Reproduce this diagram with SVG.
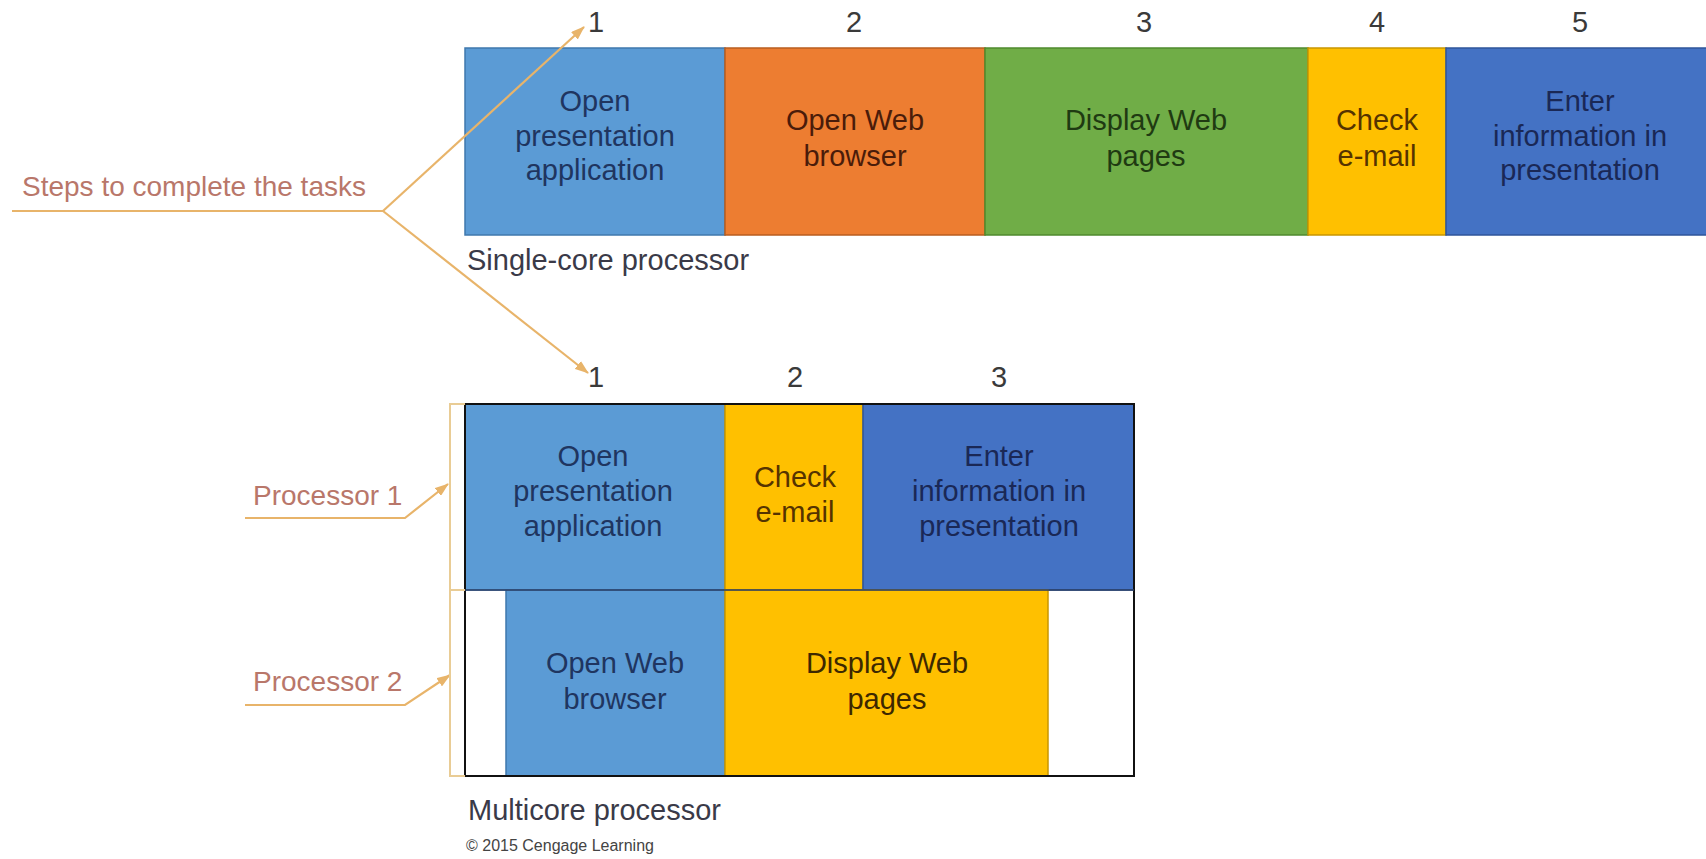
<svg xmlns="http://www.w3.org/2000/svg" width="1706" height="859" viewBox="0 0 1706 859">
<style>
  text { font-family: "Liberation Sans", Arial, sans-serif; }
  .box { font-size: 29px; text-anchor: middle; }
  .num { font-size: 29px; text-anchor: middle; fill: #3a3a3a; }
  .lbl { font-size: 28px; fill: #b9776a; }
  .cap { font-size: 29px; fill: #3a3a48; }
  .conn { fill: none; stroke: #e8b46a; stroke-width: 2.2; }
  .brk { fill: none; stroke: #e9cc95; stroke-width: 2; }
  .seg { stroke-width: 1.5; }
  .lb { fill: #5b9bd5; stroke: #3f78ad; }
  .or { fill: #ed7d31; stroke: #b95d1f; }
  .gr { fill: #70ad47; stroke: #4f8a2e; }
  .ye { fill: #ffc000; stroke: #c99600; }
  .db { fill: #4472c4; stroke: #2f559b; }
  .t-lb { fill: #1f3560; }
  .t-or { fill: #4a1c0a; }
  .t-gr { fill: #1f3a12; }
  .t-ye { fill: #553300; }
  .t-db { fill: #1a2856; }
</style>
<defs>
  <marker id="ah" viewBox="0 0 14 10" refX="13" refY="5" markerWidth="14" markerHeight="10" markerUnits="userSpaceOnUse" orient="auto">
    <path d="M0,0 L14,5 L0,10 Z" fill="#e8b46a"/>
  </marker>
</defs>
<rect width="1706" height="859" fill="#ffffff"/>

<!-- step numbers -->
<g id="top-numbers">
  <text class="num" x="596" y="32">1</text>
  <text class="num" x="854" y="32">2</text>
  <text class="num" x="1144" y="32">3</text>
  <text class="num" x="1377" y="32">4</text>
  <text class="num" x="1580" y="32">5</text>
</g>

<!-- single-core bar -->
<g id="single-1">
  <rect class="seg lb" x="465" y="48" width="260" height="187"/>
  <text class="box t-lb" x="595"><tspan x="595" y="111">Open</tspan><tspan x="595" y="146">presentation</tspan><tspan x="595" y="180">application</tspan></text>
</g>
<g id="single-2">
  <rect class="seg or" x="725" y="48" width="260" height="187"/>
  <text class="box t-or" x="855"><tspan x="855" y="130">Open Web</tspan><tspan x="855" y="166">browser</tspan></text>
</g>
<g id="single-3">
  <rect class="seg gr" x="985" y="48" width="323" height="187"/>
  <text class="box t-gr" x="1146"><tspan x="1146" y="130">Display Web</tspan><tspan x="1146" y="166">pages</tspan></text>
</g>
<g id="single-4">
  <rect class="seg ye" x="1308" y="48" width="138" height="187"/>
  <text class="box t-ye" x="1377"><tspan x="1377" y="130">Check</tspan><tspan x="1377" y="166">e-mail</tspan></text>
</g>
<g id="single-5">
  <rect class="seg db" x="1446" y="48" width="262" height="187"/>
  <text class="box t-db" x="1580"><tspan x="1580" y="111">Enter</tspan><tspan x="1580" y="146">information in</tspan><tspan x="1580" y="180">presentation</tspan></text>
</g>
<text class="cap" x="467" y="270">Single-core processor</text>

<!-- multicore -->
<g id="multi-numbers">
  <text class="num" x="596" y="387">1</text>
  <text class="num" x="795" y="387">2</text>
  <text class="num" x="999" y="387">3</text>
</g>
<g id="multi-p1-1">
  <rect class="seg lb" x="465" y="404" width="260" height="186"/>
  <text class="box t-lb"><tspan x="593" y="466">Open</tspan><tspan x="593" y="501">presentation</tspan><tspan x="593" y="536">application</tspan></text>
</g>
<g id="multi-p1-2">
  <rect class="seg ye" x="725" y="404" width="138" height="186"/>
  <text class="box t-ye"><tspan x="795" y="487">Check</tspan><tspan x="795" y="522">e-mail</tspan></text>
</g>
<g id="multi-p1-3">
  <rect class="seg db" x="863" y="404" width="271" height="186"/>
  <text class="box t-db"><tspan x="999" y="466">Enter</tspan><tspan x="999" y="501">information in</tspan><tspan x="999" y="536">presentation</tspan></text>
</g>
<g id="multi-p2-1">
  <rect class="seg lb" x="506" y="590" width="219" height="186"/>
  <text class="box t-lb"><tspan x="615" y="673">Open Web</tspan><tspan x="615" y="709">browser</tspan></text>
</g>
<g id="multi-p2-2">
  <rect class="seg ye" x="725" y="590" width="323" height="186"/>
  <text class="box" fill="#3d2800"><tspan x="887" y="673">Display Web</tspan><tspan x="887" y="709">pages</tspan></text>
</g>
<rect x="465" y="404" width="669" height="372" fill="none" stroke="#111111" stroke-width="2"/>
<line x1="465" y1="590" x2="1134" y2="590" stroke="#2b3f66" stroke-width="1.5"/>

<text class="cap" x="468" y="820">Multicore processor</text>
<text x="466" y="851" font-size="16" fill="#444444">© 2015 Cengage Learning</text>

<!-- labels -->
<g id="label-steps">
  <text class="lbl" x="22" y="196">Steps to complete the tasks</text>
</g>
<g id="label-p1">
  <text class="lbl" x="253" y="505">Processor 1</text>
</g>
<g id="label-p2">
  <text class="lbl" x="253" y="691">Processor 2</text>
</g>

<!-- connectors -->
<g id="connectors">
  <path class="conn" d="M12,211 H383"/>
  <path class="conn" d="M383,211 L584,27" marker-end="url(#ah)"/>
  <path class="conn" d="M383,211 L588,373" marker-end="url(#ah)"/>
  <path class="conn" d="M245,518 H405 L448,484" marker-end="url(#ah)"/>
  <path class="conn" d="M245,705 H405 L450,675" marker-end="url(#ah)"/>
  <path class="brk" d="M465,404 H450 V776 H465 M450,590 H465"/>
</g>
</svg>
